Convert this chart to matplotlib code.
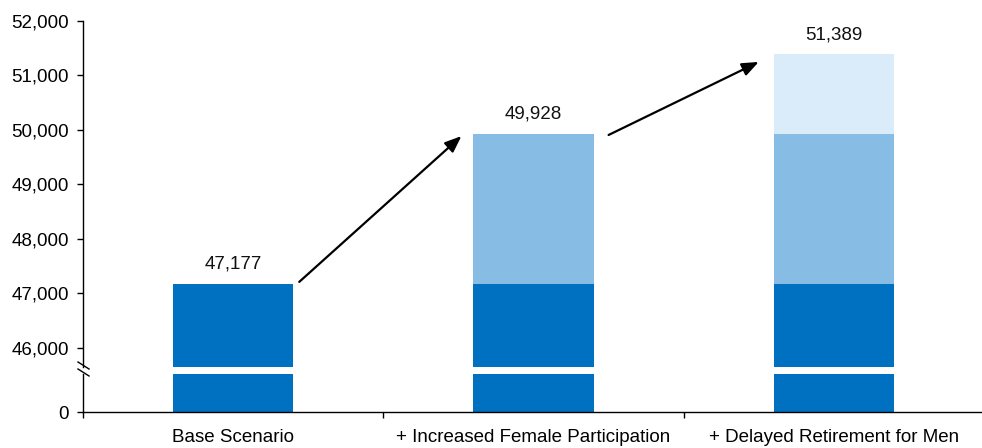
import matplotlib
matplotlib.use("Agg")
import matplotlib.pyplot as plt
from matplotlib.lines import Line2D

plt.rcParams['font.family'] = ['Liberation Sans', 'DejaVu Sans']

categories = ["Base Scenario", "+ Increased Female Participation", "+ Delayed Retirement for Men"]
base = [47177, 47177, 47177]
female = [0, 2751, 2751]
retirement = [0, 0, 1461]
totals = [47177, 49928, 51389]
upper_ticks = [46000, 47000, 48000, 49000, 50000, 51000, 52000]

c_dark = "#0070C0"
c_mid = "#87BCE5"
c_light = "#DAEBFA"
FS = 13.5

W, H = 982, 448
fig = plt.figure(figsize=(W / 100, H / 100), dpi=100)

left = 83 / W
width = 901 / W
ax_top = fig.add_axes([left, (H - 367) / H, width, (367 - 21) / H])
ax_bot = fig.add_axes([left, (H - 412) / H, width, (412 - 374) / H])

x = list(range(len(categories)))
bw = 0.40
for ax in (ax_top, ax_bot):
    ax.bar(x, base, width=bw, color=c_dark, zorder=2)
    ax.bar(x, female, width=bw, bottom=base, color=c_mid, zorder=2)
    b2 = [b + f for b, f in zip(base, female)]
    ax.bar(x, retirement, width=bw, bottom=b2, color=c_light, zorder=2)
    ax.set_xlim(-0.5, 2.5)
    for s in ("top", "right"):
        ax.spines[s].set_visible(False)
    ax.spines["left"].set_linewidth(1.0)
    ax.tick_params(axis="y", direction="out", length=4, width=1, pad=6, labelsize=FS)

ax_top.set_ylim(45650, 52000)
ax_top.set_yticks(upper_ticks)
ax_top.set_yticklabels([f"{v:,}" for v in upper_ticks])
ax_top.spines["bottom"].set_visible(False)
ax_top.tick_params(axis="x", which="both", bottom=False, labelbottom=False)

ax_bot.set_ylim(0, 3000)
ax_bot.set_yticks([0])
ax_bot.set_yticklabels(["0"])
ax_bot.spines["bottom"].set_linewidth(1.0)
ax_bot.set_xticks([-0.5, 0.5, 1.5, 2.5])
ax_bot.set_xticklabels([])
ax_bot.set_xticks(x, minor=True)
ax_bot.set_xticklabels(categories, minor=True)
ax_bot.tick_params(axis="x", which="major", direction="out", length=4, width=1)
ax_bot.tick_params(axis="x", which="minor", length=0, pad=12, labelsize=FS)

# value labels
for i, t in enumerate(totals):
    ax_top.annotate(f"{t:,}", xy=(i, t), xytext=(0, 11), textcoords="offset points",
                    ha="center", va="baseline", fontsize=FS, color="#111111")

# arrows between bars (start/end offsets are styling)
start_dx = [0.22, 0.25]
end_dx = [0.76, 0.75]
start_dy = [35, -20]
end_dy = [-40, -140]
for i in range(len(totals) - 1):
    ax_top.annotate("", xy=(i + end_dx[i], totals[i + 1] + end_dy[i]),
                    xytext=(i + start_dx[i], totals[i] + start_dy[i]),
                    arrowprops=dict(arrowstyle="-|>,head_length=0.5,head_width=0.2",
                                    color="black", lw=1.6,
                                    mutation_scale=20, shrinkA=0, shrinkB=0))

# axis break marks
for yb in (365.5, 372.5):
    fig.add_artist(Line2D([78 / W, 89 / W], [(H - yb + 3.5) / H, (H - yb - 3.5) / H],
                          transform=fig.transFigure, color="black", lw=1.0))

fig.savefig("out.png", dpi=100)
